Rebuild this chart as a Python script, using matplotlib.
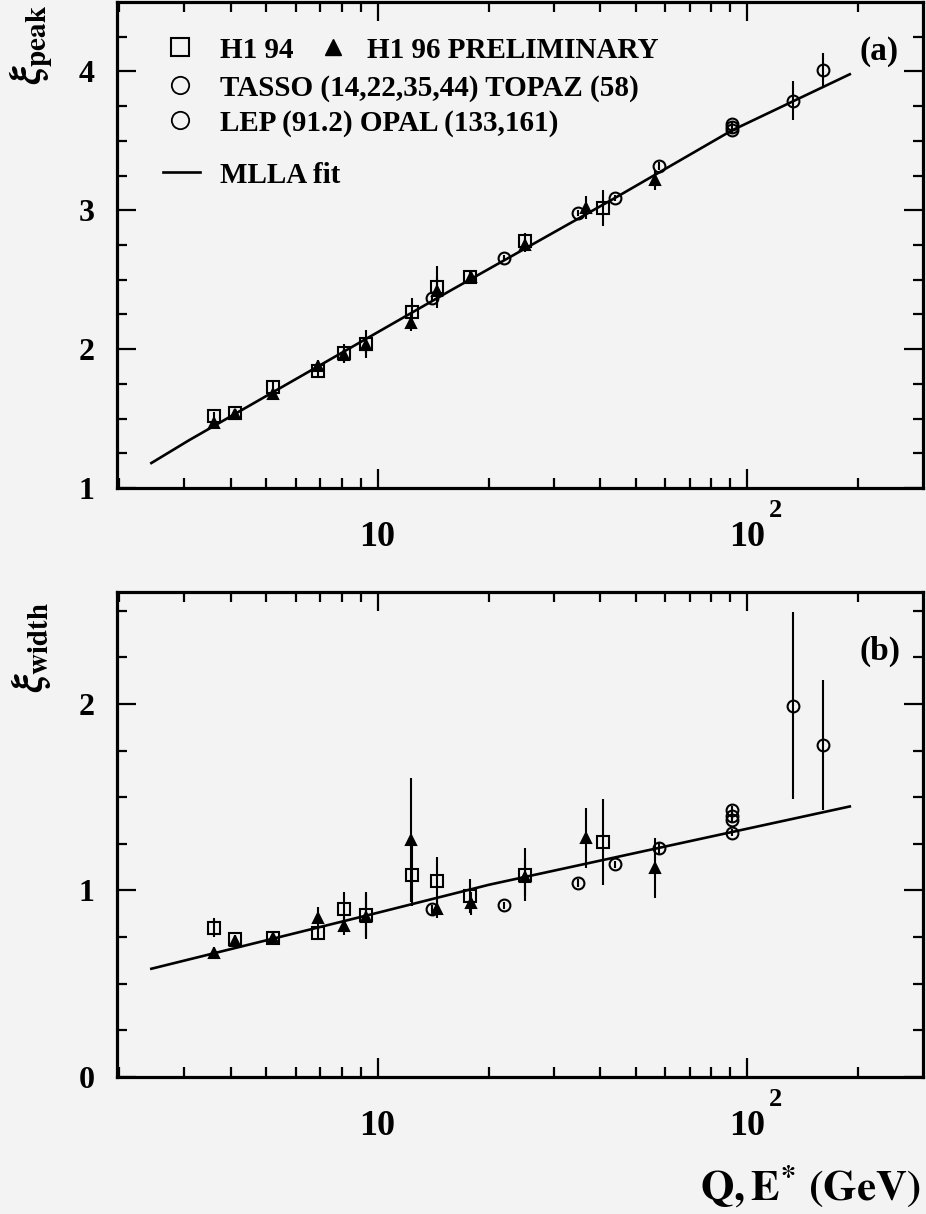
import numpy as np
import matplotlib
matplotlib.use("Agg")
import matplotlib.pyplot as plt
from matplotlib.ticker import FixedLocator, NullFormatter, FixedFormatter

plt.rcParams['font.family'] = ['Liberation Serif', 'DejaVu Serif']
plt.rcParams['font.weight'] = 'bold'
plt.rcParams['mathtext.fontset'] = 'stix'

# ---- data ----
# panel (a): xi_peak
h1_94_q = [3.6, 4.1, 5.2, 6.9, 8.1, 9.3, 12.4, 14.5, 17.8, 25.0, 40.7]
h1_94_peak = [1.52, 1.54, 1.73, 1.84, 1.97, 2.04, 2.27, 2.45, 2.52, 2.78, 3.02]
h1_94_peak_err = [0.03, 0.03, 0.04, 0.04, 0.07, 0.10, 0.10, 0.15, 0.05, 0.06, 0.13]

h1_96_q = [3.6, 4.1, 5.2, 6.9, 8.1, 9.3, 12.3, 14.5, 17.9, 25.0, 36.6, 56.3]
h1_96_peak = [1.47, 1.53, 1.68, 1.88, 1.96, 2.03, 2.19, 2.42, 2.52, 2.75, 3.02, 3.22]
h1_96_peak_err = [0.03, 0.03, 0.03, 0.04, 0.05, 0.06, 0.06, 0.10, 0.04, 0.05, 0.08, 0.07]

tasso_q = [14, 22, 35, 44, 58]
tasso_peak = [2.37, 2.66, 2.98, 3.09, 3.32]
tasso_peak_err = [0.02, 0.02, 0.02, 0.02, 0.03]

lep_q = [91.2, 91.2, 91.2, 133, 161]
lep_peak = [3.58, 3.60, 3.62, 3.79, 4.01]
lep_peak_err = [0.02, 0.02, 0.02, 0.14, 0.12]

fit_peak_q = [2.44, 3.09, 15.7, 44, 91, 190]
fit_peak = [1.18, 1.345, 2.42, 3.09, 3.575, 3.98]

# panel (b): xi_width
h1_94_width = [0.80, 0.74, 0.745, 0.77, 0.90, 0.87, 1.085, 1.05, 0.97, 1.085, 1.26]
h1_94_width_err = [0.05, 0.02, 0.02, 0.03, 0.09, 0.12, 0.17, 0.13, 0.09, 0.14, 0.23]

h1_96_width = [0.665, 0.73, 0.745, 0.85, 0.81, 0.86, 1.27, 0.90, 0.93, 1.07, 1.28, 1.12]
h1_96_width_err = [0.03, 0.03, 0.03, 0.06, 0.05, 0.12, 0.33, 0.05, 0.06, 0.10, 0.16, 0.16]

tasso_width = [0.90, 0.92, 1.04, 1.14, 1.225]
tasso_width_err = [0.02, 0.02, 0.02, 0.02, 0.03]

lep_w_q = [91.2, 91.2, 91.2, 91.2, 133, 161]
lep_width = [1.31, 1.38, 1.40, 1.43, 1.99, 1.78]
lep_width_err = [0.02, 0.02, 0.02, 0.02, 0.50, 0.35]

fit_width_q = [2.44, 10, 20, 190]
fit_width = [0.58, 0.88, 1.03, 1.45]

bg = '#f3f3f3'
fig = plt.figure(figsize=(9.26, 12.14), dpi=100)
fig.patch.set_facecolor(bg)
ax1 = fig.add_axes([0.1264, 0.598, 0.8704, 0.4003])
ax2 = fig.add_axes([0.1264, 0.1129, 0.8704, 0.3995])

minor_x = [2, 3, 4, 5, 6, 7, 8, 9, 20, 30, 40, 50, 60, 70, 80, 90, 200]


def style(ax, ymin, ymax, ymajor, yminor):
    ax.set_xscale('log')
    ax.set_xlim(1.97, 300)
    ax.set_ylim(ymin, ymax)
    ax.set_facecolor(bg)
    for s in ax.spines.values():
        s.set_linewidth(2.3)
    ax.xaxis.set_major_locator(FixedLocator([10, 100]))
    ax.xaxis.set_major_formatter(FixedFormatter(['10', '10']))
    ax.xaxis.set_minor_locator(FixedLocator(minor_x))
    ax.xaxis.set_minor_formatter(NullFormatter())
    ax.yaxis.set_major_locator(FixedLocator(ymajor))
    ax.yaxis.set_major_formatter(FixedFormatter([str(v) for v in ymajor]))
    ax.yaxis.set_minor_locator(FixedLocator(yminor))
    ax.tick_params(which='both', direction='in', top=True, right=True, width=1.6)
    ax.tick_params(which='major', length=14)
    ax.tick_params(which='minor', length=7)
    ax.tick_params(axis='x', which='major', labelsize=26, pad=24)
    ax.tick_params(axis='y', which='major', labelsize=23, pad=16)
    # superscript of 10^2
    ax.annotate('2', xy=(100, 0), xycoords=('data', 'axes fraction'),
                xytext=(16, -8), textcoords='offset points',
                fontsize=19, ha='left', va='top')


def draw(ax, sets, fitq, fity):
    ax.plot(fitq, fity, color='k', lw=1.9, zorder=2)
    for q, y, e, m, ms, fc in sets:
        ax.errorbar(q, y, yerr=e, fmt='none', ecolor='k', elinewidth=1.5, capsize=0, zorder=3)
        ax.plot(q, y, linestyle='none', marker=m, ms=ms, mfc=fc, mec='k', mew=1.5, zorder=4)


style(ax1, 1, 4.5, [1, 2, 3, 4], list(np.arange(1.25, 4.5, 0.25)))
style(ax2, 0, 2.6, [0, 1, 2], list(np.arange(0.25, 2.6, 0.25)))

draw(ax1, [
    (h1_94_q, h1_94_peak, h1_94_peak_err, 's', 8.5, 'none'),
    (h1_96_q, h1_96_peak, h1_96_peak_err, '^', 6.5, 'k'),
    (tasso_q, tasso_peak, tasso_peak_err, 'o', 8.5, 'none'),
    (lep_q, lep_peak, lep_peak_err, 'o', 8.5, 'none'),
], fit_peak_q, fit_peak)

draw(ax2, [
    (h1_94_q, h1_94_width, h1_94_width_err, 's', 8.5, 'none'),
    (h1_96_q, h1_96_width, h1_96_width_err, '^', 6.5, 'k'),
    (tasso_q, tasso_width, tasso_width_err, 'o', 8.5, 'none'),
    (lep_w_q, lep_width, lep_width_err, 'o', 8.5, 'none'),
], fit_width_q, fit_width)

# legend, drawn by hand (first row holds two entries)
tr = ax1.transAxes
lfs = 21
ax1.plot([0.0782], [0.9074], 's', ms=12.5, mfc='none', mec='k', mew=1.5, transform=tr, clip_on=False)
ax1.text(0.1278, 0.9074, 'H1 94', fontsize=lfs, transform=tr, va='center_baseline')
ax1.plot([0.268], [0.9074], '^', ms=11, color='k', transform=tr, clip_on=False)
ax1.text(0.310, 0.9074, 'H1 96 PRELIMINARY', fontsize=lfs, transform=tr, va='center_baseline')
ax1.plot([0.0782], [0.829], 'o', ms=12.5, mfc='none', mec='k', mew=1.3, transform=tr, clip_on=False)
ax1.text(0.1278, 0.829, 'TASSO (14,22,35,44) TOPAZ (58)', fontsize=lfs, transform=tr, va='center_baseline')
ax1.plot([0.0782], [0.757], 'o', ms=12.5, mfc='none', mec='k', mew=1.3, transform=tr, clip_on=False)
ax1.text(0.1278, 0.757, 'LEP (91.2) OPAL (133,161)', fontsize=lfs, transform=tr, va='center_baseline')
ax1.plot([0.0571, 0.103], [0.650, 0.650], color='k', lw=1.9, transform=tr, clip_on=False)
ax1.text(0.1278, 0.650, 'MLLA fit', fontsize=lfs, transform=tr, va='center_baseline')

ax1.text(0.946, 0.898, '(a)', fontsize=24, transform=tr, ha='center', va='center')
ax2.text(0.946, 0.877, '(b)', fontsize=24, transform=ax2.transAxes, ha='center', va='center')

fig.text(0.033, 0.963, r'$\xi_{\mathbf{peak}}$', rotation=90, fontsize=30, ha='center', va='center')
fig.text(0.033, 0.467, r'$\xi_{\mathbf{width}}$', rotation=90, fontsize=30, ha='center', va='center')
fig.text(0.994, 0.003, r'$\mathbf{Q, E^{*}\ (GeV)}$', fontsize=31, ha='right', va='bottom')

fig.savefig('out.png', dpi=100, facecolor=bg)
